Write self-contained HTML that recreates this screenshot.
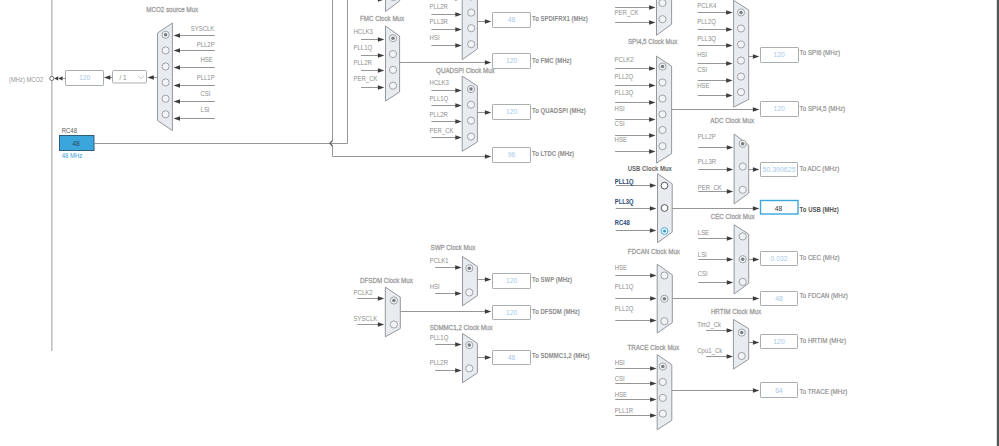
<!DOCTYPE html>
<html><head><meta charset="utf-8"><style>
html,body{margin:0;padding:0;background:#fff;width:999px;height:446px;overflow:hidden}
svg{position:absolute;left:0;top:0;font-family:"Liberation Sans", sans-serif}
</style></head><body>
<svg width="999" height="446" viewBox="0 0 999 446">
<rect x="51" y="0" width="1.6" height="351" fill="#c2c2c2"/>
<text transform="translate(172.20,11.57) scale(0.8696,1)" font-size="7.14" fill="#9a9a9a" font-weight="normal" text-anchor="middle" stroke="#9a9a9a" stroke-width="0.26">MCO2 source Mux</text>
<polygon points="157.50,33.00 172.40,23.00 172.40,130.60 157.50,120.50" fill="#e8ecf0" stroke="#94989c" stroke-width="1"/>
<circle cx="165.60" cy="34.80" r="3.6" fill="#f1f3f5" stroke="#a0a4a8" stroke-width="1"/>
<circle cx="165.60" cy="34.80" r="1.75" fill="#7a7e82"/>
<circle cx="165.60" cy="50.40" r="3.6" fill="#f1f3f5" stroke="#a0a4a8" stroke-width="1"/>
<circle cx="165.60" cy="66.50" r="3.6" fill="#f1f3f5" stroke="#a0a4a8" stroke-width="1"/>
<circle cx="165.60" cy="82.40" r="3.6" fill="#f1f3f5" stroke="#a0a4a8" stroke-width="1"/>
<circle cx="165.60" cy="98.70" r="3.6" fill="#f1f3f5" stroke="#a0a4a8" stroke-width="1"/>
<circle cx="165.60" cy="114.30" r="3.6" fill="#f1f3f5" stroke="#a0a4a8" stroke-width="1"/>
<line x1="214.80" y1="35.50" x2="177.60" y2="35.50" stroke="#969696" stroke-width="1"/>
<polygon points="173.60,35.50 180.00,33.25 180.00,37.75" fill="#3c3c3c"/>
<line x1="214.80" y1="50.50" x2="177.60" y2="50.50" stroke="#969696" stroke-width="1"/>
<polygon points="173.60,50.50 180.00,48.25 180.00,52.75" fill="#3c3c3c"/>
<line x1="214.80" y1="67.50" x2="177.60" y2="67.50" stroke="#969696" stroke-width="1"/>
<polygon points="173.60,67.50 180.00,65.25 180.00,69.75" fill="#3c3c3c"/>
<line x1="214.80" y1="85.50" x2="177.60" y2="85.50" stroke="#969696" stroke-width="1"/>
<polygon points="173.60,85.50 180.00,83.25 180.00,87.75" fill="#3c3c3c"/>
<line x1="214.80" y1="101.50" x2="177.60" y2="101.50" stroke="#969696" stroke-width="1"/>
<polygon points="173.60,101.50 180.00,99.25 180.00,103.75" fill="#3c3c3c"/>
<line x1="214.80" y1="118.50" x2="177.60" y2="118.50" stroke="#969696" stroke-width="1"/>
<polygon points="173.60,118.50 180.00,116.25 180.00,120.75" fill="#3c3c3c"/>
<text transform="translate(190.65,30.77) scale(0.8696,1)" font-size="6.90" fill="#8e8e8e" font-weight="normal" text-anchor="start">SYSCLK</text>
<text transform="translate(196.65,46.87) scale(0.8696,1)" font-size="6.90" fill="#8e8e8e" font-weight="normal" text-anchor="start">PLL2P</text>
<text transform="translate(200.45,62.47) scale(0.8696,1)" font-size="6.90" fill="#8e8e8e" font-weight="normal" text-anchor="start">HSE</text>
<text transform="translate(196.65,80.37) scale(0.8696,1)" font-size="6.90" fill="#8e8e8e" font-weight="normal" text-anchor="start">PLL1P</text>
<text transform="translate(200.55,95.87) scale(0.8696,1)" font-size="6.90" fill="#8e8e8e" font-weight="normal" text-anchor="start">CSI</text>
<text transform="translate(200.55,111.97) scale(0.8696,1)" font-size="6.90" fill="#8e8e8e" font-weight="normal" text-anchor="start">LSI</text>
<line x1="157.50" y1="77.50" x2="151.40" y2="77.50" stroke="#969696" stroke-width="1"/>
<polygon points="147.40,77.50 153.80,75.25 153.80,79.75" fill="#3c3c3c"/>
<rect x="112.5" y="70.5" width="34" height="12.5" rx="1" fill="#fff" stroke="#a9aeb3" stroke-width="1"/>
<text transform="translate(119.40,80.13) scale(0.8696,1)" font-size="7.36" fill="#8a8a8a" font-weight="normal" text-anchor="start">/ 1</text>
<polyline points="137.8,75.6 141,78.8 144.2,75.6" fill="none" stroke="#b0b0b0" stroke-width="0.8"/>
<line x1="112.10" y1="77.50" x2="107.90" y2="77.50" stroke="#969696" stroke-width="1"/>
<polygon points="103.90,77.50 110.30,75.25 110.30,79.75" fill="#3c3c3c"/>
<rect x="65.5" y="70.5" width="38.0" height="15.0" rx="0.6" fill="#fff" stroke="#a9aeb3" stroke-width="1"/>
<text transform="translate(84.60,80.49) scale(0.8696,1)" font-size="7.82" fill="#a8c8ea" font-weight="normal" text-anchor="middle">120</text>
<line x1="62.60" y1="78.50" x2="65.50" y2="78.50" stroke="#969696" stroke-width="1"/>
<polygon points="54.10,78.40 58.20,76.30 58.20,80.50" fill="#3c3c3c"/>
<polygon points="58.20,78.40 62.60,76.30 62.60,80.50" fill="#3c3c3c"/>
<circle cx="51.8" cy="78.4" r="2.1" fill="#fff" stroke="#5a5a5a" stroke-width="0.9"/>
<text transform="translate(43.20,81.59) scale(0.8696,1)" font-size="6.67" fill="#969696" font-weight="normal" text-anchor="end">(MHz) MCO2</text>
<text transform="translate(61.70,132.92) scale(0.8696,1)" font-size="6.90" fill="#5a5a5a" font-weight="normal" text-anchor="start">RC48</text>
<rect x="59.5" y="135.5" width="34.5" height="15" fill="#3ba6dc" stroke="#2d5f7c" stroke-width="1"/>
<text transform="translate(76.00,145.99) scale(0.8696,1)" font-size="7.82" fill="#2e4a58" font-weight="normal" text-anchor="middle">48</text>
<text transform="translate(61.70,158.27) scale(0.8696,1)" font-size="6.90" fill="#3aa0dc" font-weight="normal" text-anchor="start">48 MHz</text>
<path d="M94,143.5 L347.5,143.5 L347.5,0" fill="none" stroke="#969696" stroke-width="1"/>
<path d="M332.5,0 L332.5,140.8 L329.8,143.3 L332.5,145.8 L332.5,156.5 L486,156.5" fill="none" stroke="#969696" stroke-width="1"/>
<polygon points="491.30,156.50 484.90,154.25 484.90,158.75" fill="#3c3c3c"/>
<path d="M332.5,140.6 L329.9,143.3 L332.5,146.0" fill="none" stroke="#5a5a5a" stroke-width="1.1"/>
<polygon points="385.50,-60.00 399.70,-50.00 399.70,0.90 385.50,11.50" fill="#e8ecf0" stroke="#94989c" stroke-width="1"/>
<circle cx="393.40" cy="-3.00" r="3.6" fill="#f1f3f5" stroke="#a0a4a8" stroke-width="1"/>
<line x1="361.00" y1="-0.50" x2="380.30" y2="-0.50" stroke="#969696" stroke-width="1"/>
<polygon points="384.30,-0.50 377.90,-2.75 377.90,1.75" fill="#3c3c3c"/>
<text transform="translate(382.10,21.27) scale(0.8696,1)" font-size="7.14" fill="#9a9a9a" font-weight="normal" text-anchor="middle" stroke="#9a9a9a" stroke-width="0.26">FMC Clock Mux</text>
<polygon points="385.50,26.00 399.60,36.00 399.60,92.00 385.50,101.00" fill="#e8ecf0" stroke="#94989c" stroke-width="1"/>
<circle cx="393.00" cy="38.20" r="3.6" fill="#f1f3f5" stroke="#a0a4a8" stroke-width="1"/>
<circle cx="393.00" cy="38.20" r="1.75" fill="#7a7e82"/>
<circle cx="393.00" cy="54.10" r="3.6" fill="#f1f3f5" stroke="#a0a4a8" stroke-width="1"/>
<circle cx="393.00" cy="69.90" r="3.6" fill="#f1f3f5" stroke="#a0a4a8" stroke-width="1"/>
<circle cx="393.00" cy="85.70" r="3.6" fill="#f1f3f5" stroke="#a0a4a8" stroke-width="1"/>
<line x1="361.00" y1="39.50" x2="380.30" y2="39.50" stroke="#969696" stroke-width="1"/>
<polygon points="384.30,39.50 377.90,37.25 377.90,41.75" fill="#3c3c3c"/>
<line x1="361.00" y1="55.50" x2="380.30" y2="55.50" stroke="#969696" stroke-width="1"/>
<polygon points="384.30,55.50 377.90,53.25 377.90,57.75" fill="#3c3c3c"/>
<line x1="361.00" y1="70.50" x2="380.30" y2="70.50" stroke="#969696" stroke-width="1"/>
<polygon points="384.30,70.50 377.90,68.25 377.90,72.75" fill="#3c3c3c"/>
<line x1="361.00" y1="87.50" x2="380.30" y2="87.50" stroke="#969696" stroke-width="1"/>
<polygon points="384.30,87.50 377.90,85.25 377.90,89.75" fill="#3c3c3c"/>
<text transform="translate(353.50,33.87) scale(0.8696,1)" font-size="6.90" fill="#8e8e8e" font-weight="normal" text-anchor="start">HCLK3</text>
<text transform="translate(353.50,49.57) scale(0.8696,1)" font-size="6.90" fill="#8e8e8e" font-weight="normal" text-anchor="start">PLL1Q</text>
<text transform="translate(353.50,65.37) scale(0.8696,1)" font-size="6.90" fill="#8e8e8e" font-weight="normal" text-anchor="start">PLL2R</text>
<text transform="translate(353.50,81.37) scale(0.8696,1)" font-size="6.90" fill="#8e8e8e" font-weight="normal" text-anchor="start">PER_CK</text>
<line x1="399.60" y1="62.50" x2="487.30" y2="62.50" stroke="#969696" stroke-width="1"/>
<polygon points="491.30,62.50 484.90,60.25 484.90,64.75" fill="#3c3c3c"/>
<rect x="492.5" y="53.5" width="38.0" height="15.0" rx="0.6" fill="#fff" stroke="#a9aeb3" stroke-width="1"/>
<text transform="translate(511.55,63.29) scale(0.8696,1)" font-size="7.82" fill="#a8c8ea" font-weight="normal" text-anchor="middle">120</text>
<text transform="translate(532.00,62.67) scale(0.8696,1)" font-size="6.90" fill="#8a8a8a" font-weight="bold" text-anchor="start">To FMC (MHz)</text>
<polygon points="462.20,-30.00 477.40,-20.00 477.40,48.80 462.20,59.70" fill="#e8ecf0" stroke="#94989c" stroke-width="1"/>
<circle cx="471.20" cy="-3.50" r="3.6" fill="#f1f3f5" stroke="#a0a4a8" stroke-width="1"/>
<circle cx="471.20" cy="12.60" r="3.6" fill="#f1f3f5" stroke="#a0a4a8" stroke-width="1"/>
<circle cx="471.20" cy="28.20" r="3.6" fill="#f1f3f5" stroke="#a0a4a8" stroke-width="1"/>
<circle cx="471.20" cy="44.20" r="3.6" fill="#f1f3f5" stroke="#a0a4a8" stroke-width="1"/>
<line x1="431.40" y1="-1.50" x2="457.70" y2="-1.50" stroke="#969696" stroke-width="1"/>
<polygon points="461.70,-1.50 455.30,-3.75 455.30,0.75" fill="#3c3c3c"/>
<line x1="431.40" y1="14.50" x2="457.70" y2="14.50" stroke="#969696" stroke-width="1"/>
<polygon points="461.70,14.50 455.30,12.25 455.30,16.75" fill="#3c3c3c"/>
<line x1="431.40" y1="29.50" x2="457.70" y2="29.50" stroke="#969696" stroke-width="1"/>
<polygon points="461.70,29.50 455.30,27.25 455.30,31.75" fill="#3c3c3c"/>
<line x1="431.40" y1="45.50" x2="457.70" y2="45.50" stroke="#969696" stroke-width="1"/>
<polygon points="461.70,45.50 455.30,43.25 455.30,47.75" fill="#3c3c3c"/>
<text transform="translate(429.60,8.77) scale(0.8696,1)" font-size="6.90" fill="#8e8e8e" font-weight="normal" text-anchor="start">PLL2R</text>
<text transform="translate(429.60,24.17) scale(0.8696,1)" font-size="6.90" fill="#8e8e8e" font-weight="normal" text-anchor="start">PLL3R</text>
<text transform="translate(429.60,40.17) scale(0.8696,1)" font-size="6.90" fill="#8e8e8e" font-weight="normal" text-anchor="start">HSI</text>
<line x1="477.40" y1="21.50" x2="487.30" y2="21.50" stroke="#969696" stroke-width="1"/>
<polygon points="491.30,21.50 484.90,19.25 484.90,23.75" fill="#3c3c3c"/>
<rect x="492.5" y="12.5" width="38.0" height="15.0" rx="0.6" fill="#fff" stroke="#a9aeb3" stroke-width="1"/>
<text transform="translate(511.55,22.19) scale(0.8696,1)" font-size="7.82" fill="#a8c8ea" font-weight="normal" text-anchor="middle">48</text>
<text transform="translate(532.00,21.07) scale(0.8696,1)" font-size="6.90" fill="#8a8a8a" font-weight="bold" text-anchor="start">To SPDIFRX1 (MHz)</text>
<text transform="translate(465.40,73.27) scale(0.8696,1)" font-size="7.14" fill="#9a9a9a" font-weight="normal" text-anchor="middle" stroke="#9a9a9a" stroke-width="0.26">QUADSPI Clock Mux</text>
<polygon points="462.20,76.00 477.40,86.00 477.40,141.90 462.20,151.30" fill="#e8ecf0" stroke="#94989c" stroke-width="1"/>
<circle cx="471.00" cy="89.10" r="3.6" fill="#f1f3f5" stroke="#a0a4a8" stroke-width="1"/>
<circle cx="471.00" cy="89.10" r="1.75" fill="#7a7e82"/>
<circle cx="471.00" cy="104.70" r="3.6" fill="#f1f3f5" stroke="#a0a4a8" stroke-width="1"/>
<circle cx="471.00" cy="120.60" r="3.6" fill="#f1f3f5" stroke="#a0a4a8" stroke-width="1"/>
<circle cx="471.00" cy="136.60" r="3.6" fill="#f1f3f5" stroke="#a0a4a8" stroke-width="1"/>
<line x1="431.40" y1="90.50" x2="457.70" y2="90.50" stroke="#969696" stroke-width="1"/>
<polygon points="461.70,90.50 455.30,88.25 455.30,92.75" fill="#3c3c3c"/>
<line x1="431.40" y1="105.50" x2="457.70" y2="105.50" stroke="#969696" stroke-width="1"/>
<polygon points="461.70,105.50 455.30,103.25 455.30,107.75" fill="#3c3c3c"/>
<line x1="431.40" y1="121.50" x2="457.70" y2="121.50" stroke="#969696" stroke-width="1"/>
<polygon points="461.70,121.50 455.30,119.25 455.30,123.75" fill="#3c3c3c"/>
<line x1="431.40" y1="137.50" x2="457.70" y2="137.50" stroke="#969696" stroke-width="1"/>
<polygon points="461.70,137.50 455.30,135.25 455.30,139.75" fill="#3c3c3c"/>
<text transform="translate(429.60,85.17) scale(0.8696,1)" font-size="6.90" fill="#8e8e8e" font-weight="normal" text-anchor="start">HCLK3</text>
<text transform="translate(429.60,100.67) scale(0.8696,1)" font-size="6.90" fill="#8e8e8e" font-weight="normal" text-anchor="start">PLL1Q</text>
<text transform="translate(429.60,117.07) scale(0.8696,1)" font-size="6.90" fill="#8e8e8e" font-weight="normal" text-anchor="start">PLL2R</text>
<text transform="translate(429.60,132.97) scale(0.8696,1)" font-size="6.90" fill="#8e8e8e" font-weight="normal" text-anchor="start">PER_CK</text>
<line x1="477.40" y1="112.50" x2="487.30" y2="112.50" stroke="#969696" stroke-width="1"/>
<polygon points="491.30,112.50 484.90,110.25 484.90,114.75" fill="#3c3c3c"/>
<rect x="492.5" y="104.5" width="38.0" height="15.0" rx="0.6" fill="#fff" stroke="#a9aeb3" stroke-width="1"/>
<text transform="translate(511.55,114.19) scale(0.8696,1)" font-size="7.82" fill="#a8c8ea" font-weight="normal" text-anchor="middle">120</text>
<text transform="translate(532.00,113.27) scale(0.8696,1)" font-size="6.90" fill="#8a8a8a" font-weight="bold" text-anchor="start">To QUADSPI (MHz)</text>
<rect x="492.5" y="147.5" width="38.0" height="15.0" rx="0.6" fill="#fff" stroke="#a9aeb3" stroke-width="1"/>
<text transform="translate(511.55,157.19) scale(0.8696,1)" font-size="7.82" fill="#a8c8ea" font-weight="normal" text-anchor="middle">96</text>
<text transform="translate(532.00,156.37) scale(0.8696,1)" font-size="6.90" fill="#8a8a8a" font-weight="bold" text-anchor="start">To LTDC (MHz)</text>
<text transform="translate(452.90,250.47) scale(0.8696,1)" font-size="7.14" fill="#9a9a9a" font-weight="normal" text-anchor="middle" stroke="#9a9a9a" stroke-width="0.26">SWP Clock Mux</text>
<polygon points="462.50,256.50 477.40,266.50 477.40,295.60 462.50,305.80" fill="#e8ecf0" stroke="#94989c" stroke-width="1"/>
<circle cx="469.30" cy="268.20" r="3.6" fill="#f1f3f5" stroke="#a0a4a8" stroke-width="1"/>
<circle cx="469.30" cy="268.20" r="1.75" fill="#7a7e82"/>
<circle cx="469.30" cy="292.40" r="3.6" fill="#f1f3f5" stroke="#a0a4a8" stroke-width="1"/>
<line x1="435.20" y1="267.50" x2="457.60" y2="267.50" stroke="#969696" stroke-width="1"/>
<polygon points="461.60,267.50 455.20,265.25 455.20,269.75" fill="#3c3c3c"/>
<line x1="435.20" y1="293.50" x2="457.60" y2="293.50" stroke="#969696" stroke-width="1"/>
<polygon points="461.60,293.50 455.20,291.25 455.20,295.75" fill="#3c3c3c"/>
<text transform="translate(429.70,263.37) scale(0.8696,1)" font-size="6.90" fill="#8e8e8e" font-weight="normal" text-anchor="start">PCLK1</text>
<text transform="translate(429.70,288.97) scale(0.8696,1)" font-size="6.90" fill="#8e8e8e" font-weight="normal" text-anchor="start">HSI</text>
<line x1="477.40" y1="279.50" x2="487.30" y2="279.50" stroke="#969696" stroke-width="1"/>
<polygon points="491.30,279.50 484.90,277.25 484.90,281.75" fill="#3c3c3c"/>
<rect x="492.5" y="273.5" width="38.0" height="15.0" rx="0.6" fill="#fff" stroke="#a9aeb3" stroke-width="1"/>
<text transform="translate(511.55,283.39) scale(0.8696,1)" font-size="7.82" fill="#a8c8ea" font-weight="normal" text-anchor="middle">120</text>
<text transform="translate(532.00,282.07) scale(0.8696,1)" font-size="6.90" fill="#8a8a8a" font-weight="bold" text-anchor="start">To SWP (MHz)</text>
<text transform="translate(386.40,282.67) scale(0.8696,1)" font-size="7.14" fill="#9a9a9a" font-weight="normal" text-anchor="middle" stroke="#9a9a9a" stroke-width="0.26">DFSDM Clock Mux</text>
<polygon points="385.30,287.10 400.30,297.10 400.30,328.50 385.30,336.80" fill="#e8ecf0" stroke="#94989c" stroke-width="1"/>
<circle cx="393.90" cy="300.50" r="3.6" fill="#f1f3f5" stroke="#a0a4a8" stroke-width="1"/>
<circle cx="393.90" cy="300.50" r="1.75" fill="#7a7e82"/>
<circle cx="393.90" cy="324.50" r="3.6" fill="#f1f3f5" stroke="#a0a4a8" stroke-width="1"/>
<line x1="357.30" y1="298.50" x2="380.20" y2="298.50" stroke="#969696" stroke-width="1"/>
<polygon points="384.20,298.50 377.80,296.25 377.80,300.75" fill="#3c3c3c"/>
<line x1="357.30" y1="324.50" x2="380.20" y2="324.50" stroke="#969696" stroke-width="1"/>
<polygon points="384.20,324.50 377.80,322.25 377.80,326.75" fill="#3c3c3c"/>
<text transform="translate(353.60,295.07) scale(0.8696,1)" font-size="6.90" fill="#8e8e8e" font-weight="normal" text-anchor="start">PCLK2</text>
<text transform="translate(353.60,320.77) scale(0.8696,1)" font-size="6.90" fill="#8e8e8e" font-weight="normal" text-anchor="start">SYSCLK</text>
<line x1="400.30" y1="311.50" x2="487.30" y2="311.50" stroke="#969696" stroke-width="1"/>
<polygon points="491.30,311.50 484.90,309.25 484.90,313.75" fill="#3c3c3c"/>
<rect x="492.5" y="305.5" width="38.0" height="14.0" rx="0.6" fill="#fff" stroke="#a9aeb3" stroke-width="1"/>
<text transform="translate(511.55,315.09) scale(0.8696,1)" font-size="7.82" fill="#a8c8ea" font-weight="normal" text-anchor="middle">120</text>
<text transform="translate(532.00,314.37) scale(0.8696,1)" font-size="6.90" fill="#8a8a8a" font-weight="bold" text-anchor="start">To DFSDM (MHz)</text>
<text transform="translate(461.20,330.07) scale(0.8696,1)" font-size="7.14" fill="#9a9a9a" font-weight="normal" text-anchor="middle" stroke="#9a9a9a" stroke-width="0.26">SDMMC1,2 Clock Mux</text>
<polygon points="462.50,333.50 477.40,343.30 477.40,372.90 462.50,382.80" fill="#e8ecf0" stroke="#94989c" stroke-width="1"/>
<circle cx="469.30" cy="345.10" r="3.6" fill="#f1f3f5" stroke="#a0a4a8" stroke-width="1"/>
<circle cx="469.30" cy="345.10" r="1.75" fill="#7a7e82"/>
<circle cx="469.30" cy="368.40" r="3.6" fill="#f1f3f5" stroke="#a0a4a8" stroke-width="1"/>
<line x1="435.20" y1="344.50" x2="457.60" y2="344.50" stroke="#969696" stroke-width="1"/>
<polygon points="461.60,344.50 455.20,342.25 455.20,346.75" fill="#3c3c3c"/>
<line x1="435.20" y1="370.50" x2="457.60" y2="370.50" stroke="#969696" stroke-width="1"/>
<polygon points="461.60,370.50 455.20,368.25 455.20,372.75" fill="#3c3c3c"/>
<text transform="translate(429.70,339.97) scale(0.8696,1)" font-size="6.90" fill="#8e8e8e" font-weight="normal" text-anchor="start">PLL1Q</text>
<text transform="translate(429.70,365.37) scale(0.8696,1)" font-size="6.90" fill="#8e8e8e" font-weight="normal" text-anchor="start">PLL2R</text>
<line x1="477.40" y1="357.50" x2="487.30" y2="357.50" stroke="#969696" stroke-width="1"/>
<polygon points="491.30,357.50 484.90,355.25 484.90,359.75" fill="#3c3c3c"/>
<rect x="492.5" y="350.5" width="38.0" height="14.0" rx="0.6" fill="#fff" stroke="#a9aeb3" stroke-width="1"/>
<text transform="translate(511.55,359.99) scale(0.8696,1)" font-size="7.82" fill="#a8c8ea" font-weight="normal" text-anchor="middle">48</text>
<text transform="translate(532.00,358.37) scale(0.8696,1)" font-size="6.90" fill="#8a8a8a" font-weight="bold" text-anchor="start">To SDMMC1,2 (MHz)</text>
<polygon points="656.50,-40.00 671.60,-30.00 671.60,24.20 656.50,35.30" fill="#e8ecf0" stroke="#94989c" stroke-width="1"/>
<circle cx="662.50" cy="3.00" r="3.6" fill="#f1f3f5" stroke="#a0a4a8" stroke-width="1"/>
<circle cx="662.50" cy="19.20" r="3.6" fill="#f1f3f5" stroke="#a0a4a8" stroke-width="1"/>
<line x1="615.10" y1="7.50" x2="651.50" y2="7.50" stroke="#969696" stroke-width="1"/>
<polygon points="655.50,7.50 649.10,5.25 649.10,9.75" fill="#3c3c3c"/>
<line x1="615.10" y1="22.50" x2="651.50" y2="22.50" stroke="#969696" stroke-width="1"/>
<polygon points="655.50,22.50 649.10,20.25 649.10,24.75" fill="#3c3c3c"/>
<text transform="translate(614.60,14.87) scale(0.8696,1)" font-size="6.90" fill="#8e8e8e" font-weight="normal" text-anchor="start">PER_CK</text>
<text transform="translate(652.60,43.77) scale(0.8696,1)" font-size="7.14" fill="#9a9a9a" font-weight="normal" text-anchor="middle" stroke="#9a9a9a" stroke-width="0.26">SPI4,5 Clock Mux</text>
<polygon points="656.50,56.10 671.60,66.20 671.60,153.60 656.50,163.10" fill="#e8ecf0" stroke="#94989c" stroke-width="1"/>
<circle cx="662.50" cy="66.60" r="3.6" fill="#f1f3f5" stroke="#a0a4a8" stroke-width="1"/>
<circle cx="662.50" cy="66.60" r="1.75" fill="#7a7e82"/>
<circle cx="662.50" cy="82.50" r="3.6" fill="#f1f3f5" stroke="#a0a4a8" stroke-width="1"/>
<circle cx="662.50" cy="98.60" r="3.6" fill="#f1f3f5" stroke="#a0a4a8" stroke-width="1"/>
<circle cx="662.50" cy="114.30" r="3.6" fill="#f1f3f5" stroke="#a0a4a8" stroke-width="1"/>
<circle cx="662.50" cy="130.00" r="3.6" fill="#f1f3f5" stroke="#a0a4a8" stroke-width="1"/>
<circle cx="662.50" cy="146.20" r="3.6" fill="#f1f3f5" stroke="#a0a4a8" stroke-width="1"/>
<line x1="615.10" y1="68.50" x2="651.50" y2="68.50" stroke="#969696" stroke-width="1"/>
<polygon points="655.50,68.50 649.10,66.25 649.10,70.75" fill="#3c3c3c"/>
<line x1="615.10" y1="85.50" x2="651.50" y2="85.50" stroke="#969696" stroke-width="1"/>
<polygon points="655.50,85.50 649.10,83.25 649.10,87.75" fill="#3c3c3c"/>
<line x1="615.10" y1="102.50" x2="651.50" y2="102.50" stroke="#969696" stroke-width="1"/>
<polygon points="655.50,102.50 649.10,100.25 649.10,104.75" fill="#3c3c3c"/>
<line x1="615.10" y1="119.50" x2="651.50" y2="119.50" stroke="#969696" stroke-width="1"/>
<polygon points="655.50,119.50 649.10,117.25 649.10,121.75" fill="#3c3c3c"/>
<line x1="615.10" y1="135.50" x2="651.50" y2="135.50" stroke="#969696" stroke-width="1"/>
<polygon points="655.50,135.50 649.10,133.25 649.10,137.75" fill="#3c3c3c"/>
<line x1="615.10" y1="151.50" x2="651.50" y2="151.50" stroke="#969696" stroke-width="1"/>
<polygon points="655.50,151.50 649.10,149.25 649.10,153.75" fill="#3c3c3c"/>
<text transform="translate(614.60,62.47) scale(0.8696,1)" font-size="6.90" fill="#8e8e8e" font-weight="normal" text-anchor="start">PCLK2</text>
<text transform="translate(614.60,78.67) scale(0.8696,1)" font-size="6.90" fill="#8e8e8e" font-weight="normal" text-anchor="start">PLL2Q</text>
<text transform="translate(614.60,94.87) scale(0.8696,1)" font-size="6.90" fill="#8e8e8e" font-weight="normal" text-anchor="start">PLL3Q</text>
<text transform="translate(614.60,110.57) scale(0.8696,1)" font-size="6.90" fill="#8e8e8e" font-weight="normal" text-anchor="start">HSI</text>
<text transform="translate(614.60,126.37) scale(0.8696,1)" font-size="6.90" fill="#8e8e8e" font-weight="normal" text-anchor="start">CSI</text>
<text transform="translate(614.60,142.27) scale(0.8696,1)" font-size="6.90" fill="#8e8e8e" font-weight="normal" text-anchor="start">HSE</text>
<line x1="671.60" y1="109.50" x2="755.30" y2="109.50" stroke="#969696" stroke-width="1"/>
<polygon points="759.30,109.50 752.90,107.25 752.90,111.75" fill="#3c3c3c"/>
<rect x="760.5" y="101.5" width="38.0" height="15.0" rx="0.6" fill="#fff" stroke="#a9aeb3" stroke-width="1"/>
<text transform="translate(779.15,111.39) scale(0.8696,1)" font-size="7.82" fill="#a8c8ea" font-weight="normal" text-anchor="middle">120</text>
<text transform="translate(799.60,110.57) scale(0.8696,1)" font-size="7.14" fill="#8a8a8a" font-weight="normal" text-anchor="start" stroke="#8a8a8a" stroke-width="0.16">To SPI4,5 (MHz)</text>
<polygon points="733.60,0.30 748.70,10.00 748.70,99.40 733.60,107.10" fill="#e8ecf0" stroke="#94989c" stroke-width="1"/>
<circle cx="741.00" cy="12.40" r="3.6" fill="#f1f3f5" stroke="#a0a4a8" stroke-width="1"/>
<circle cx="741.00" cy="12.40" r="1.75" fill="#7a7e82"/>
<circle cx="741.00" cy="28.50" r="3.6" fill="#f1f3f5" stroke="#a0a4a8" stroke-width="1"/>
<circle cx="741.00" cy="44.40" r="3.6" fill="#f1f3f5" stroke="#a0a4a8" stroke-width="1"/>
<circle cx="741.00" cy="60.60" r="3.6" fill="#f1f3f5" stroke="#a0a4a8" stroke-width="1"/>
<circle cx="741.00" cy="76.60" r="3.6" fill="#f1f3f5" stroke="#a0a4a8" stroke-width="1"/>
<circle cx="741.00" cy="92.10" r="3.6" fill="#f1f3f5" stroke="#a0a4a8" stroke-width="1"/>
<line x1="697.70" y1="12.50" x2="728.60" y2="12.50" stroke="#969696" stroke-width="1"/>
<polygon points="732.60,12.50 726.20,10.25 726.20,14.75" fill="#3c3c3c"/>
<line x1="697.70" y1="29.50" x2="728.60" y2="29.50" stroke="#969696" stroke-width="1"/>
<polygon points="732.60,29.50 726.20,27.25 726.20,31.75" fill="#3c3c3c"/>
<line x1="697.70" y1="45.50" x2="728.60" y2="45.50" stroke="#969696" stroke-width="1"/>
<polygon points="732.60,45.50 726.20,43.25 726.20,47.75" fill="#3c3c3c"/>
<line x1="697.70" y1="63.50" x2="728.60" y2="63.50" stroke="#969696" stroke-width="1"/>
<polygon points="732.60,63.50 726.20,61.25 726.20,65.75" fill="#3c3c3c"/>
<line x1="697.70" y1="80.50" x2="728.60" y2="80.50" stroke="#969696" stroke-width="1"/>
<polygon points="732.60,80.50 726.20,78.25 726.20,82.75" fill="#3c3c3c"/>
<line x1="697.70" y1="95.50" x2="728.60" y2="95.50" stroke="#969696" stroke-width="1"/>
<polygon points="732.60,95.50 726.20,93.25 726.20,97.75" fill="#3c3c3c"/>
<text transform="translate(697.30,8.07) scale(0.8696,1)" font-size="6.90" fill="#8e8e8e" font-weight="normal" text-anchor="start">PCLK4</text>
<text transform="translate(697.30,24.27) scale(0.8696,1)" font-size="6.90" fill="#8e8e8e" font-weight="normal" text-anchor="start">PLL2Q</text>
<text transform="translate(697.30,41.07) scale(0.8696,1)" font-size="6.90" fill="#8e8e8e" font-weight="normal" text-anchor="start">PLL3Q</text>
<text transform="translate(697.30,57.07) scale(0.8696,1)" font-size="6.90" fill="#8e8e8e" font-weight="normal" text-anchor="start">HSI</text>
<text transform="translate(697.30,72.07) scale(0.8696,1)" font-size="6.90" fill="#8e8e8e" font-weight="normal" text-anchor="start">CSI</text>
<text transform="translate(697.30,88.07) scale(0.8696,1)" font-size="6.90" fill="#8e8e8e" font-weight="normal" text-anchor="start">HSE</text>
<line x1="748.70" y1="56.50" x2="755.30" y2="56.50" stroke="#969696" stroke-width="1"/>
<polygon points="759.30,56.50 752.90,54.25 752.90,58.75" fill="#3c3c3c"/>
<rect x="760.5" y="47.5" width="38.0" height="15.0" rx="0.6" fill="#fff" stroke="#a9aeb3" stroke-width="1"/>
<text transform="translate(779.15,57.39) scale(0.8696,1)" font-size="7.82" fill="#a8c8ea" font-weight="normal" text-anchor="middle">120</text>
<text transform="translate(799.60,54.97) scale(0.8696,1)" font-size="7.14" fill="#8a8a8a" font-weight="normal" text-anchor="start" stroke="#8a8a8a" stroke-width="0.16">To SPI6 (MHz)</text>
<text transform="translate(732.20,123.37) scale(0.8696,1)" font-size="7.14" fill="#9a9a9a" font-weight="normal" text-anchor="middle" stroke="#9a9a9a" stroke-width="0.26">ADC Clock Mux</text>
<polygon points="734.10,134.00 748.70,145.00 748.70,193.10 734.10,203.90" fill="#e8ecf0" stroke="#94989c" stroke-width="1"/>
<circle cx="742.70" cy="143.80" r="3.6" fill="#f1f3f5" stroke="#a0a4a8" stroke-width="1"/>
<circle cx="742.70" cy="143.80" r="1.75" fill="#7a7e82"/>
<circle cx="742.70" cy="166.50" r="3.6" fill="#f1f3f5" stroke="#a0a4a8" stroke-width="1"/>
<circle cx="742.70" cy="189.80" r="3.6" fill="#f1f3f5" stroke="#a0a4a8" stroke-width="1"/>
<line x1="698.30" y1="147.50" x2="729.20" y2="147.50" stroke="#969696" stroke-width="1"/>
<polygon points="733.20,147.50 726.80,145.25 726.80,149.75" fill="#3c3c3c"/>
<line x1="698.30" y1="169.50" x2="729.20" y2="169.50" stroke="#969696" stroke-width="1"/>
<polygon points="733.20,169.50 726.80,167.25 726.80,171.75" fill="#3c3c3c"/>
<line x1="698.30" y1="191.50" x2="729.20" y2="191.50" stroke="#969696" stroke-width="1"/>
<polygon points="733.20,191.50 726.80,189.25 726.80,193.75" fill="#3c3c3c"/>
<text transform="translate(697.80,138.57) scale(0.8696,1)" font-size="6.90" fill="#8e8e8e" font-weight="normal" text-anchor="start">PLL2P</text>
<text transform="translate(697.80,164.07) scale(0.8696,1)" font-size="6.90" fill="#8e8e8e" font-weight="normal" text-anchor="start">PLL3R</text>
<text transform="translate(697.80,189.87) scale(0.8696,1)" font-size="6.90" fill="#8e8e8e" font-weight="normal" text-anchor="start">PER_CK</text>
<line x1="748.70" y1="169.50" x2="755.30" y2="169.50" stroke="#969696" stroke-width="1"/>
<polygon points="759.30,169.50 752.90,167.25 752.90,171.75" fill="#3c3c3c"/>
<rect x="760.5" y="162.5" width="37.0" height="14.0" rx="0.6" fill="#fff" stroke="#a9aeb3" stroke-width="1"/>
<text transform="translate(779.00,172.07) scale(0.8696,1)" font-size="8.05" fill="#a8c8ea" font-weight="normal" text-anchor="middle">50.390625</text>
<text transform="translate(799.60,171.17) scale(0.8696,1)" font-size="7.14" fill="#8a8a8a" font-weight="normal" text-anchor="start" stroke="#8a8a8a" stroke-width="0.16">To ADC (MHz)</text>
<text transform="translate(649.80,171.07) scale(0.8696,1)" font-size="6.90" fill="#666" font-weight="bold" text-anchor="middle">USB Clock Mux</text>
<polygon points="657.50,173.70 672.20,183.80 672.20,232.20 657.50,242.70" fill="#e8ecf0" stroke="#94989c" stroke-width="1"/>
<circle cx="664.50" cy="185.60" r="3.4" fill="#fff" stroke="#505050" stroke-width="0.95"/>
<circle cx="664.50" cy="208.00" r="3.4" fill="#fff" stroke="#505050" stroke-width="0.95"/>
<circle cx="664.50" cy="231.00" r="3.4" fill="#fff" stroke="#3aa0e0" stroke-width="0.95"/>
<circle cx="664.50" cy="231.00" r="1.6" fill="#2f9ae0"/>
<line x1="615.70" y1="185.50" x2="652.30" y2="185.50" stroke="#969696" stroke-width="1"/>
<polygon points="656.30,185.50 649.90,183.25 649.90,187.75" fill="#3c3c3c"/>
<line x1="615.70" y1="208.50" x2="652.30" y2="208.50" stroke="#969696" stroke-width="1"/>
<polygon points="656.30,208.50 649.90,206.25 649.90,210.75" fill="#3c3c3c"/>
<line x1="615.70" y1="230.50" x2="652.30" y2="230.50" stroke="#969696" stroke-width="1"/>
<polygon points="656.30,230.50 649.90,228.25 649.90,232.75" fill="#3c3c3c"/>
<text transform="translate(614.80,183.59) scale(0.8696,1)" font-size="6.67" fill="#2a4672" font-weight="bold" text-anchor="start">PLL1Q</text>
<text transform="translate(614.80,203.89) scale(0.8696,1)" font-size="6.67" fill="#2a4672" font-weight="bold" text-anchor="start">PLL3Q</text>
<text transform="translate(614.80,225.29) scale(0.8696,1)" font-size="6.67" fill="#2a4672" font-weight="bold" text-anchor="start">RC48</text>
<line x1="672.20" y1="208.50" x2="755.30" y2="208.50" stroke="#969696" stroke-width="1"/>
<polygon points="759.30,208.50 752.90,206.25 752.90,210.75" fill="#3c3c3c"/>
<rect x="760.5" y="200.5" width="37.5" height="13.5" fill="#fff" stroke="#3aa6dc" stroke-width="1.4"/>
<text transform="translate(778.50,210.69) scale(0.8696,1)" font-size="7.82" fill="#333" font-weight="normal" text-anchor="middle">48</text>
<text transform="translate(799.60,212.27) scale(0.8696,1)" font-size="6.90" fill="#555" font-weight="bold" text-anchor="start">To USB (MHz)</text>
<text transform="translate(732.60,218.57) scale(0.8696,1)" font-size="7.14" fill="#9a9a9a" font-weight="normal" text-anchor="middle" stroke="#9a9a9a" stroke-width="0.26">CEC Clock Mux</text>
<polygon points="734.10,224.70 748.70,234.10 748.70,283.40 734.10,294.00" fill="#e8ecf0" stroke="#94989c" stroke-width="1"/>
<circle cx="742.70" cy="236.40" r="3.6" fill="#f1f3f5" stroke="#a0a4a8" stroke-width="1"/>
<circle cx="742.70" cy="259.20" r="3.6" fill="#f1f3f5" stroke="#a0a4a8" stroke-width="1"/>
<circle cx="742.70" cy="259.20" r="1.75" fill="#7a7e82"/>
<circle cx="742.70" cy="281.90" r="3.6" fill="#f1f3f5" stroke="#a0a4a8" stroke-width="1"/>
<line x1="698.30" y1="238.50" x2="729.20" y2="238.50" stroke="#969696" stroke-width="1"/>
<polygon points="733.20,238.50 726.80,236.25 726.80,240.75" fill="#3c3c3c"/>
<line x1="698.30" y1="259.50" x2="729.20" y2="259.50" stroke="#969696" stroke-width="1"/>
<polygon points="733.20,259.50 726.80,257.25 726.80,261.75" fill="#3c3c3c"/>
<line x1="698.30" y1="282.50" x2="729.20" y2="282.50" stroke="#969696" stroke-width="1"/>
<polygon points="733.20,282.50 726.80,280.25 726.80,284.75" fill="#3c3c3c"/>
<text transform="translate(697.80,234.97) scale(0.8696,1)" font-size="6.90" fill="#8e8e8e" font-weight="normal" text-anchor="start">LSE</text>
<text transform="translate(697.80,256.67) scale(0.8696,1)" font-size="6.90" fill="#8e8e8e" font-weight="normal" text-anchor="start">LSI</text>
<text transform="translate(697.80,275.67) scale(0.8696,1)" font-size="6.90" fill="#8e8e8e" font-weight="normal" text-anchor="start">CSI</text>
<line x1="748.70" y1="259.50" x2="755.30" y2="259.50" stroke="#969696" stroke-width="1"/>
<polygon points="759.30,259.50 752.90,257.25 752.90,261.75" fill="#3c3c3c"/>
<rect x="760.5" y="251.5" width="37.0" height="14.0" rx="0.6" fill="#fff" stroke="#a9aeb3" stroke-width="1"/>
<text transform="translate(779.00,261.49) scale(0.8696,1)" font-size="7.82" fill="#a8c8ea" font-weight="normal" text-anchor="middle">0.032</text>
<text transform="translate(799.60,260.07) scale(0.8696,1)" font-size="7.14" fill="#8a8a8a" font-weight="normal" text-anchor="start" stroke="#8a8a8a" stroke-width="0.16">To CEC (MHz)</text>
<text transform="translate(653.90,253.57) scale(0.8696,1)" font-size="7.14" fill="#9a9a9a" font-weight="normal" text-anchor="middle" stroke="#9a9a9a" stroke-width="0.26">FDCAN Clock Mux</text>
<polygon points="657.20,264.20 672.30,274.80 672.30,322.60 657.20,333.10" fill="#e8ecf0" stroke="#94989c" stroke-width="1"/>
<circle cx="664.40" cy="275.50" r="3.6" fill="#f1f3f5" stroke="#a0a4a8" stroke-width="1"/>
<circle cx="664.40" cy="298.80" r="3.6" fill="#f1f3f5" stroke="#a0a4a8" stroke-width="1"/>
<circle cx="664.40" cy="298.80" r="1.75" fill="#7a7e82"/>
<circle cx="664.40" cy="321.20" r="3.6" fill="#f1f3f5" stroke="#a0a4a8" stroke-width="1"/>
<line x1="615.30" y1="275.50" x2="652.50" y2="275.50" stroke="#969696" stroke-width="1"/>
<polygon points="656.50,275.50 650.10,273.25 650.10,277.75" fill="#3c3c3c"/>
<line x1="615.30" y1="298.50" x2="652.50" y2="298.50" stroke="#969696" stroke-width="1"/>
<polygon points="656.50,298.50 650.10,296.25 650.10,300.75" fill="#3c3c3c"/>
<line x1="615.30" y1="320.50" x2="652.50" y2="320.50" stroke="#969696" stroke-width="1"/>
<polygon points="656.50,320.50 650.10,318.25 650.10,322.75" fill="#3c3c3c"/>
<text transform="translate(614.80,269.97) scale(0.8696,1)" font-size="6.90" fill="#8e8e8e" font-weight="normal" text-anchor="start">HSE</text>
<text transform="translate(614.80,289.07) scale(0.8696,1)" font-size="6.90" fill="#8e8e8e" font-weight="normal" text-anchor="start">PLL1Q</text>
<text transform="translate(614.80,310.77) scale(0.8696,1)" font-size="6.90" fill="#8e8e8e" font-weight="normal" text-anchor="start">PLL2Q</text>
<line x1="672.30" y1="298.50" x2="755.30" y2="298.50" stroke="#969696" stroke-width="1"/>
<polygon points="759.30,298.50 752.90,296.25 752.90,300.75" fill="#3c3c3c"/>
<rect x="760.5" y="291.5" width="37.0" height="14.0" rx="0.6" fill="#fff" stroke="#a9aeb3" stroke-width="1"/>
<text transform="translate(779.00,301.49) scale(0.8696,1)" font-size="7.82" fill="#a8c8ea" font-weight="normal" text-anchor="middle">48</text>
<text transform="translate(799.60,298.37) scale(0.8696,1)" font-size="7.14" fill="#8a8a8a" font-weight="normal" text-anchor="start" stroke="#8a8a8a" stroke-width="0.16">To FDCAN (MHz)</text>
<text transform="translate(736.00,314.37) scale(0.8696,1)" font-size="7.14" fill="#9a9a9a" font-weight="normal" text-anchor="middle" stroke="#9a9a9a" stroke-width="0.26">HRTIM Clock Mux</text>
<polygon points="733.40,319.40 748.70,328.70 748.70,359.20 733.40,369.10" fill="#e8ecf0" stroke="#94989c" stroke-width="1"/>
<circle cx="741.70" cy="332.60" r="3.6" fill="#f1f3f5" stroke="#a0a4a8" stroke-width="1"/>
<circle cx="741.70" cy="332.60" r="1.75" fill="#7a7e82"/>
<circle cx="741.70" cy="356.00" r="3.6" fill="#f1f3f5" stroke="#a0a4a8" stroke-width="1"/>
<line x1="706.10" y1="330.50" x2="729.00" y2="330.50" stroke="#969696" stroke-width="1"/>
<polygon points="733.00,330.50 726.60,328.25 726.60,332.75" fill="#3c3c3c"/>
<line x1="706.10" y1="356.50" x2="729.00" y2="356.50" stroke="#969696" stroke-width="1"/>
<polygon points="733.00,356.50 726.60,354.25 726.60,358.75" fill="#3c3c3c"/>
<text transform="translate(697.30,326.97) scale(0.8696,1)" font-size="6.90" fill="#8e8e8e" font-weight="normal" text-anchor="start">Tim2_Ck</text>
<text transform="translate(697.30,352.57) scale(0.8696,1)" font-size="6.90" fill="#8e8e8e" font-weight="normal" text-anchor="start">Cpu1_Ck</text>
<line x1="748.70" y1="342.50" x2="755.30" y2="342.50" stroke="#969696" stroke-width="1"/>
<polygon points="759.30,342.50 752.90,340.25 752.90,344.75" fill="#3c3c3c"/>
<rect x="760.5" y="334.5" width="37.0" height="14.0" rx="0.6" fill="#fff" stroke="#a9aeb3" stroke-width="1"/>
<text transform="translate(779.00,344.19) scale(0.8696,1)" font-size="7.82" fill="#a8c8ea" font-weight="normal" text-anchor="middle">120</text>
<text transform="translate(799.60,343.17) scale(0.8696,1)" font-size="7.14" fill="#8a8a8a" font-weight="normal" text-anchor="start" stroke="#8a8a8a" stroke-width="0.16">To HRTIM (MHz)</text>
<text transform="translate(653.30,349.57) scale(0.8696,1)" font-size="7.14" fill="#9a9a9a" font-weight="normal" text-anchor="middle" stroke="#9a9a9a" stroke-width="0.26">TRACE Clock Mux</text>
<polygon points="657.20,354.60 671.80,364.70 671.80,420.30 657.20,429.80" fill="#e8ecf0" stroke="#94989c" stroke-width="1"/>
<circle cx="662.80" cy="366.50" r="3.6" fill="#f1f3f5" stroke="#a0a4a8" stroke-width="1"/>
<circle cx="662.80" cy="366.50" r="1.75" fill="#7a7e82"/>
<circle cx="662.80" cy="382.00" r="3.6" fill="#f1f3f5" stroke="#a0a4a8" stroke-width="1"/>
<circle cx="662.80" cy="397.90" r="3.6" fill="#f1f3f5" stroke="#a0a4a8" stroke-width="1"/>
<circle cx="662.80" cy="413.60" r="3.6" fill="#f1f3f5" stroke="#a0a4a8" stroke-width="1"/>
<line x1="615.30" y1="368.50" x2="652.50" y2="368.50" stroke="#969696" stroke-width="1"/>
<polygon points="656.50,368.50 650.10,366.25 650.10,370.75" fill="#3c3c3c"/>
<line x1="615.30" y1="383.50" x2="652.50" y2="383.50" stroke="#969696" stroke-width="1"/>
<polygon points="656.50,383.50 650.10,381.25 650.10,385.75" fill="#3c3c3c"/>
<line x1="615.30" y1="399.50" x2="652.50" y2="399.50" stroke="#969696" stroke-width="1"/>
<polygon points="656.50,399.50 650.10,397.25 650.10,401.75" fill="#3c3c3c"/>
<line x1="615.30" y1="415.50" x2="652.50" y2="415.50" stroke="#969696" stroke-width="1"/>
<polygon points="656.50,415.50 650.10,413.25 650.10,417.75" fill="#3c3c3c"/>
<text transform="translate(614.80,365.27) scale(0.8696,1)" font-size="6.90" fill="#8e8e8e" font-weight="normal" text-anchor="start">HSI</text>
<text transform="translate(614.80,380.97) scale(0.8696,1)" font-size="6.90" fill="#8e8e8e" font-weight="normal" text-anchor="start">CSI</text>
<text transform="translate(614.80,396.67) scale(0.8696,1)" font-size="6.90" fill="#8e8e8e" font-weight="normal" text-anchor="start">HSE</text>
<text transform="translate(614.80,413.47) scale(0.8696,1)" font-size="6.90" fill="#8e8e8e" font-weight="normal" text-anchor="start">PLL1R</text>
<line x1="671.80" y1="390.50" x2="755.30" y2="390.50" stroke="#969696" stroke-width="1"/>
<polygon points="759.30,390.50 752.90,388.25 752.90,392.75" fill="#3c3c3c"/>
<rect x="760.5" y="382.5" width="37.0" height="15.0" rx="0.6" fill="#fff" stroke="#a9aeb3" stroke-width="1"/>
<text transform="translate(779.00,392.59) scale(0.8696,1)" font-size="7.82" fill="#a8c8ea" font-weight="normal" text-anchor="middle">64</text>
<text transform="translate(799.60,394.07) scale(0.8696,1)" font-size="7.14" fill="#8a8a8a" font-weight="normal" text-anchor="start" stroke="#8a8a8a" stroke-width="0.16">To TRACE (MHz)</text>
<rect x="996.8" y="0" width="2.2" height="446" fill="#4e5656"/>
</svg>
</body></html>
